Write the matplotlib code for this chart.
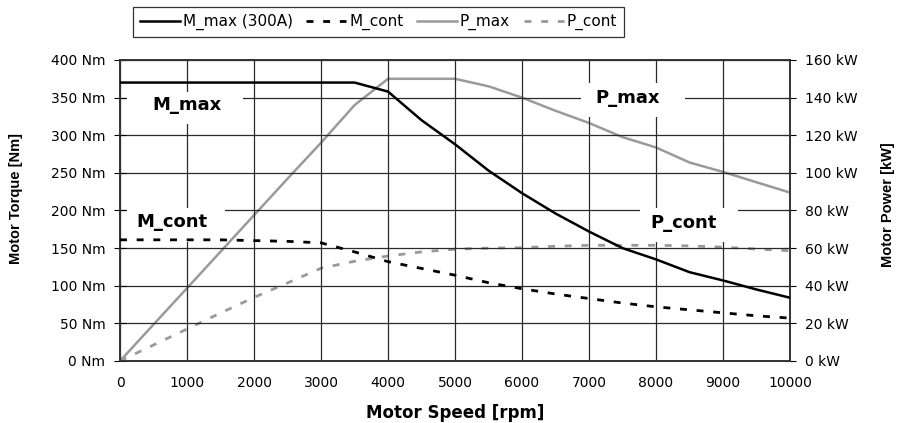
import numpy as np
import matplotlib.pyplot as plt
from matplotlib.patches import Rectangle

plt.rcParams['font.family'] = ['DejaVu Sans']

# speed grid [rpm]
speed = [0, 500, 1000, 1500, 2000, 2500, 3000, 3500, 4000, 4500, 5000, 5500,
         6000, 6500, 7000, 7500, 8000, 8500, 9000, 9500, 10000]

# torque [Nm]
m_max = [370, 370, 370, 370, 370, 370, 370, 370, 358, 320, 288, 253,
         223, 196, 172, 150, 135, 118, 107, 95, 84]
m_cont = [161, 161, 161, 161, 160, 159, 157, 145, 132, 123, 114, 104,
          96, 89, 83, 77, 72, 68, 64, 60, 57]

# power [kW]
p_max = [0, 19.4, 38.7, 58.1, 77.5, 96.9, 116, 136, 150, 150, 150, 146,
         140, 133, 126.5, 119, 113.5, 105.5, 100.5, 95, 89.5]
p_cont = [0, 8.5, 17, 25.5, 33.8, 41.5, 49.3, 53, 55.8, 58, 59.4, 60,
          60.2, 61, 61.5, 61.5, 61.5, 61.2, 60.5, 59.5, 58.6]

xticks = list(range(0, 10001, 1000))
torque_ticks = list(range(0, 401, 50))
power_ticks = list(range(0, 161, 20))

fig = plt.figure(figsize=(8.99, 4.23), dpi=100)
ax = fig.add_axes([0.1335, 0.1466, 0.7453, 0.7116])
ax2 = ax.twinx()

ax.set_xlim(0, 10000)
ax.set_ylim(0, 400)
ax2.set_ylim(0, 160)
ax.set_xticks(xticks)
ax.set_yticks(torque_ticks)
ax.set_yticklabels([f"{t} Nm" for t in torque_ticks])
ax2.set_yticks(power_ticks)
ax2.set_yticklabels([f"{p} kW" for p in power_ticks])

ax.grid(True, color='#2a2a2a', linewidth=0.9, zorder=0)
ax.set_axisbelow(True)

l1, = ax.plot(speed, m_max, color='black', lw=1.8, zorder=4)
l2, = ax.plot(speed, m_cont, color='black', lw=2.0, ls=(0, (2.5, 3.5)), zorder=4)
l3, = ax2.plot(speed, p_max, color='#9a9a9a', lw=1.8, zorder=4)
l4, = ax2.plot(speed, p_cont, color='#9a9a9a', lw=2.0, ls=(0, (2.5, 3.5)), zorder=4)

ax.tick_params(axis='y', direction='inout', length=9, labelsize=10, pad=6)
ax2.tick_params(axis='y', direction='inout', length=9, labelsize=10, pad=6)
ax.tick_params(axis='x', length=0, labelsize=10, pad=11)

for a in (ax, ax2):
    for s in a.spines.values():
        s.set_color('#333333')
        s.set_linewidth(1.2)

ax.set_xlabel('Motor Speed [rpm]', fontsize=12, fontweight='bold')
ax.xaxis.set_label_coords(0.5, -0.143)
ax.set_ylabel('Motor Torque [Nm]', fontsize=10.5, fontweight='bold', family='Liberation Sans')
ax.yaxis.set_label_coords(-0.145, 0.54)
ax2.set_ylabel('Motor Power [kW]', fontsize=10.5, fontweight='bold', family='Liberation Sans')
ax2.yaxis.set_label_coords(1.136, 0.52)

# white boxes behind the curve names (centre x, centre y, width, height)
label_boxes = [(970, 336, 1730, 43), (836, 181, 1460, 45),
               (7657, 347, 1540, 46), (8493, 181, 1460, 45)]
for bx, by, bw, bh in label_boxes:
    ax.add_patch(Rectangle((bx - bw / 2, by - bh / 2), bw, bh, facecolor='white',
                           edgecolor='none', zorder=3))

kw = dict(fontsize=13, fontweight='bold', ha='center', va='center', zorder=3.5)
ax.text(1000, 340, 'M_max', **kw)
ax.text(776, 185, 'M_cont', **kw)
ax.text(7582, 349, 'P_max', **kw)
ax.text(8418, 183, 'P_cont', **kw)

ax.set_zorder(ax2.get_zorder() + 1)
ax.patch.set_visible(False)

leg = fig.legend([l1, l2, l3, l4], ['M_max (300A)', 'M_cont', 'P_max', 'P_cont'],
                 loc='upper left', bbox_to_anchor=(133 / 899, 1 - 7 / 423), ncol=4,
                 fontsize=11, frameon=True, fancybox=False, handlelength=2.6,
                 handletextpad=0.2, columnspacing=0.9, borderpad=0.45,
                 borderaxespad=0)
leg.get_frame().set_edgecolor('black')
leg.get_frame().set_linewidth(0.9)

fig.savefig('out.png', dpi=100)
